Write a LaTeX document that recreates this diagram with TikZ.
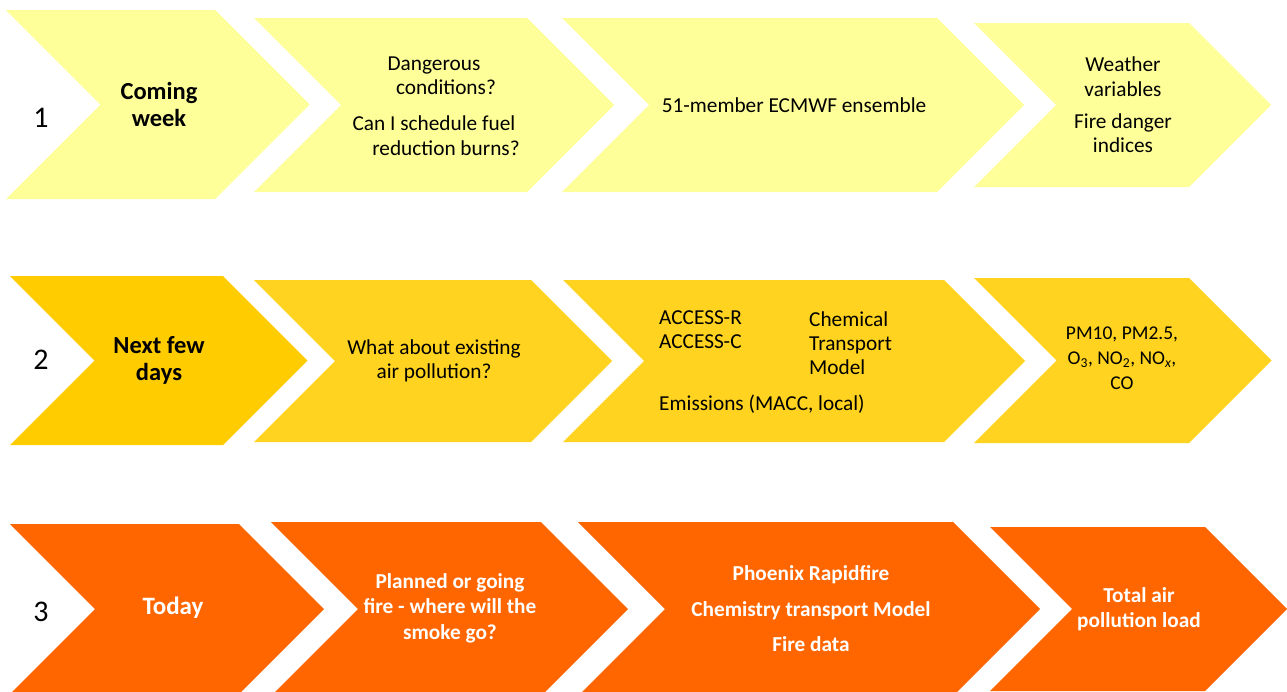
\documentclass[tikz,border=0pt]{standalone}
\usepackage{fontspec}
\setmainfont{Carlito}
\usetikzlibrary{positioning}
\definecolor{wkyellow}{RGB}{255,255,153}
\definecolor{dygold}{RGB}{255,204,0}
\definecolor{dyyellow}{RGB}{255,211,32}
\definecolor{tdorange}{RGB}{255,102,0}

% chevron: fill, left, top, right (body), bottom -- 45 degree tip and notch
\newcommand{\chev}[5]{%
  \fill[#1] (#2,#3) -- (#4,#3) -- ({#4+(#5-#3)/2},{(#3+#5)/2})
    -- (#4,#5) -- (#2,#5) -- ({#2+(#5-#3)/2},{(#3+#5)/2}) -- cycle;}

\begin{document}
\begin{tikzpicture}[x=1pt,y=-1pt,
    num/.style={inner sep=0pt,font=\fontsize{30}{36}\selectfont},
    hd/.style={inner sep=0pt,align=center,font=\fontsize{24.5}{27}\selectfont\bfseries},
    txt/.style={inner sep=0pt,align=center,font=\fontsize{21.3}{24.3}\selectfont},
    wtxt/.style={txt,text=white,font=\fontsize{21.3}{25.5}\selectfont\bfseries}]
  \useasboundingbox (0,0) rectangle (1287,691);

  % Row 1: coming week (pale yellow)
  \chev{wkyellow}{6}{10}{215}{199}
  \chev{wkyellow}{254}{18}{527}{192}
  \chev{wkyellow}{562}{18}{937}{192}
  \chev{wkyellow}{974}{23}{1189}{187}
  \node[num] (n1) at (41,118) {1};
  \node[hd] (week) at (159,104) {Coming\\week};
  \node[txt] (burns) at (434,106)
        {Dangerous\\\hspace*{24pt}conditions?\\[12pt]
         Can I schedule fuel\\\hspace*{24pt}reduction burns?};
  \node[txt] (ens) at (794,105) {51-member ECMWF ensemble};
  \node[txt] (wvars) at (1123,105)
        {Weather\\variables\\[8pt]Fire danger\\indices};

  % Row 2: next few days (gold)
  \chev{dygold}{10}{276}{223}{445}
  \chev{dyyellow}{254}{280}{531}{442}
  \chev{dyyellow}{563}{280}{944}{442}
  \chev{dyyellow}{974}{278}{1189}{443}
  \node[num] (n2) at (41,360) {2};
  \node[hd] (days) at (159,360) {Next few\\days};
  \node[txt] (airq) at (434,361) {What about existing\\air pollution?};
  \node[txt,align=left,anchor=west] (access) at (659,330) {ACCESS-R\\ACCESS-C};
  \node[txt,align=left,anchor=west] (ctm) at (809,343) {Chemical\\Transport\\Model};
  \node[txt,anchor=west] (emis) at (659,404) {Emissions (MACC, local)};
  \node[txt,font=\fontsize{19.5}{25}\selectfont] (pm) at (1122,358)
        {PM10, PM2.5,\\O\textsubscript{3}, NO\textsubscript{2}, NO\textsubscript{\itshape x},\\CO};

  % Row 3: today (orange)
  \chev{tdorange}{10}{524}{239}{694}
  \chev{tdorange}{271}{522}{541}{696}
  \chev{tdorange}{578}{522}{953}{696}
  \chev{tdorange}{990}{527}{1205}{691}
  \node[num] (n3) at (41,612) {3};
  \node[hd,text=white,font=\fontsize{25}{30}\selectfont\bfseries] (today) at (173,608) {Today};
  \node[wtxt] (smoke) at (450,608) {Planned or going\\fire - where will the\\smoke go?};
  \node[wtxt] (phx) at (811,609)
        {Phoenix Rapidfire\\[10pt]Chemistry transport Model\\[10pt]Fire data};
  \node[wtxt] (load) at (1139,609) {Total air\\pollution load};
\end{tikzpicture}
\end{document}
